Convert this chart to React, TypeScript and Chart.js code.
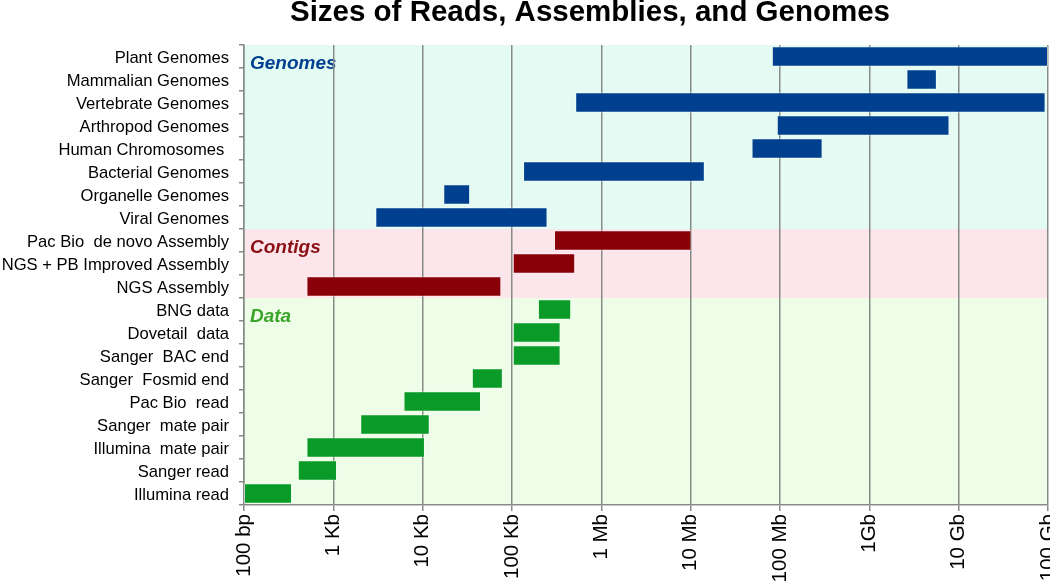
import React, { useEffect, useRef } from "react";
import { Chart, registerables } from "chart.js";

Chart.register(...registerables);

const categories = [
  "Plant Genomes",
  "Mammalian Genomes",
  "Vertebrate Genomes",
  "Arthropod Genomes",
  "Human Chromosomes ",
  "Bacterial Genomes",
  "Organelle Genomes",
  "Viral Genomes",
  "Pac Bio  de novo Assembly",
  "NGS + PB Improved Assembly",
  "NGS Assembly",
  "BNG data",
  "Dovetail  data",
  "Sanger  BAC end",
  "Sanger  Fosmid end",
  "Pac Bio  read",
  "Sanger  mate pair",
  "Illumina  mate pair",
  "Sanger read",
  "Illumina read",
];

const sizeStarts = [
  8.1e7, 2.6e9, 5.1e5, 9.2e7, 4.8e7, 1.33e5, 1.7e4, 2.95e3,
  2.95e5, 1.02e5, 5e2,
  1.95e5, 1.02e5, 1.02e5, 3.55e4, 6.1e3, 2e3, 5e2, 4e2, 1e2,
];

const sizeEnds = [
  1e11, 5.7e9, 9.4e10, 7.9e9, 3e8, 1.44e7, 3.4e4, 2.5e5,
  1.02e7, 5.1e5, 7.6e4,
  4.6e5, 3.5e5, 3.5e5, 7.9e4, 4.5e4, 1.2e4, 1.06e4, 1.1e3, 3.45e2,
];

const groupNames = ["Genomes", "Contigs", "Data"];
const groupSizes = [8, 3, 9];
const groupBarColors = ["#00408F", "#8A0008", "#0A9A27"];
const groupBandColors = ["#E4FBF3", "#FDE5EC", "#EEFDE7"];
const groupTextColors = ["#00408F", "#8B1015", "#3AA52A"];

const tickValues = [1e2, 1e3, 1e4, 1e5, 1e6, 1e7, 1e8, 1e9, 1e10, 1e11];
const tickLabels = ["100 bp", "1 Kb", "10 Kb", "100 Kb", "1 Mb", "10 Mb", "100 Mb", "1Gb", "10 Gb", "100 Gb"];

const chartTitle = "Sizes of Reads, Assemblies, and Genomes";

const FONT = "'Liberation Sans', Arial, sans-serif";

const rowGroup: number[] = [];
groupSizes.forEach((n, g) => {
  for (let i = 0; i < n; i++) rowGroup.push(g);
});

const bandPlugin = {
  id: "bands",
  beforeDraw(chart: any) {
    const { ctx, chartArea, scales } = chart;
    const y = scales.y;
    ctx.save();
    let start = 0;
    groupSizes.forEach((n, g) => {
      const end = start + n - 1;
      const top = start === 0 ? chartArea.top : (y.getPixelForValue(start - 1) + y.getPixelForValue(start)) / 2;
      const bottom =
        end === categories.length - 1
          ? chartArea.bottom
          : (y.getPixelForValue(end) + y.getPixelForValue(end + 1)) / 2;
      ctx.fillStyle = groupBandColors[g];
      ctx.fillRect(chartArea.left, top, chartArea.right - chartArea.left, bottom - top);
      ctx.fillStyle = groupTextColors[g];
      ctx.font = `italic bold 19px ${FONT}`;
      ctx.textAlign = "left";
      ctx.textBaseline = "alphabetic";
      ctx.fillText(groupNames[g], chartArea.left + 6, top + 24);
      start += n;
    });
    ctx.restore();
  },
  afterDraw(chart: any) {
    const { ctx } = chart;
    ctx.save();
    ctx.fillStyle = "#000";
    ctx.font = `bold 29.5px ${FONT}`;
    ctx.textAlign = "center";
    ctx.textBaseline = "alphabetic";
    ctx.fillText(chartTitle, 590, 20.5);
    ctx.restore();
  },
};

export default function App() {
  const canvasRef = useRef<HTMLCanvasElement | null>(null);

  useEffect(() => {
    if (!canvasRef.current) return;
    const chart = new Chart(canvasRef.current, {
      type: "bar",
      data: {
        labels: categories,
        datasets: [
          {
            data: categories.map((_, i) => [sizeStarts[i], sizeEnds[i]]) as any,
            backgroundColor: rowGroup.map((g) => groupBarColors[g]),
            borderColor: "rgba(255,255,255,0.45)",
            borderWidth: 1,
            borderSkipped: false,
            barPercentage: 0.9,
            categoryPercentage: 1.0,
          },
        ],
      },
      options: {
        indexAxis: "y",
        animation: false,
        responsive: true,
        maintainAspectRatio: false,
        layout: { padding: { top: 45, right: 2, bottom: 0, left: 0 } },
        plugins: {
          legend: { display: false },
          tooltip: { enabled: false },
          title: { display: false },
        },
        scales: {
          x: {
            type: "logarithmic",
            position: "bottom",
            min: 1e2,
            max: 1e11,
            afterBuildTicks: (scale: any) => {
              scale.ticks = tickValues.map((v) => ({ value: v }));
            },
            afterFit: (scale: any) => {
              scale.height = 79;
              scale.paddingLeft = 0;
              scale.paddingRight = 0;
            },
            ticks: {
              autoSkip: false,
              minRotation: 90,
              maxRotation: 90,
              padding: 3,
              color: "#000",
              font: { family: FONT, size: 20.5 },
              callback: (_v: any, index: number) => tickLabels[index],
            },
            grid: {
              color: "#868C85",
              lineWidth: 1.5,
              tickLength: 6,
              drawTicks: true,
            },
            border: { color: "#868C85", width: 1.5 },
          },
          y: {
            type: "category",
            offset: true,
            afterFit: (scale: any) => {
              scale.width = 244;
              scale.paddingTop = 0;
              scale.paddingBottom = 0;
            },
            ticks: {
              autoSkip: false,
              padding: 10,
              labelOffset: 1.5,
              color: "#000",
              font: { family: FONT, size: 16.6 },
            },
            grid: {
              drawOnChartArea: false,
              drawTicks: true,
              tickLength: 5,
              offset: true,
              color: "#868C85",
              lineWidth: 1.5,
            },
            border: { color: "#868C85", width: 1.5 },
          },
        },
      } as any,
      plugins: [bandPlugin],
    });
    return () => chart.destroy();
  }, []);

  return (
    <div style={{ position: "fixed", left: 0, top: 0, width: 1050, height: 584, background: "#fff" }}>
      <canvas ref={canvasRef} />
    </div>
  );
}
